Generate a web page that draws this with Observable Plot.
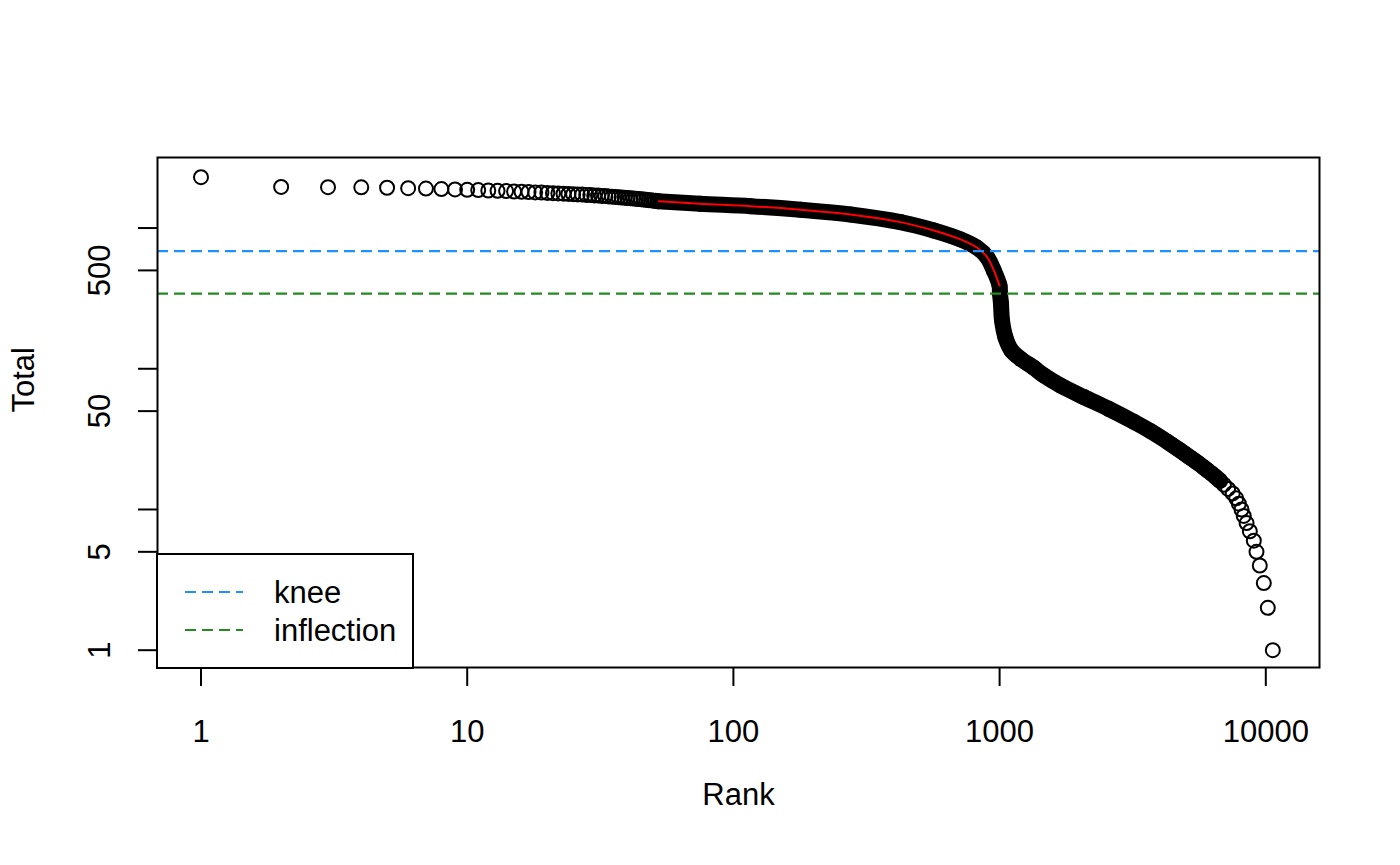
<!DOCTYPE html>
<html>
<head>
<meta charset="utf-8">
<script src="https://cdn.jsdelivr.net/npm/d3@7"></script>
<script src="https://cdn.jsdelivr.net/npm/@observablehq/plot@0.6"></script>
<style>
  html, body { margin: 0; padding: 0; background: #fff; }
  #chart { width: 1400px; height: 865px; }
</style>
</head>
<body>
<div id="chart"></div>
<script>
// Individually visible barcodes (top ranks)
const topRanks = [1,2,3,4,5,6,7,8,9,10,11,12,13,14,15,16,17,18,19,20,21,22,23,24,25,26,27,28,29,30,31,32,33,34,35,36,37,38,39,40,41,42,43,44,45,46,47,48,49,50,51];
const topTotals = [2300,1960,1952,1946,1934,1921,1907,1893,1882,1869,1860,1848,1839,1830,1818,1811,1803,1790,1786,1776,1770,1761,1756,1747,1742,1733,1728,1719,1714,1705,1700,1691,1686,1677,1672,1663,1658,1649,1644,1635,1630,1621,1616,1607,1602,1593,1588,1579,1574,1565,1560];
// Dense band of barcodes
const bandRanks = [52,75,116,179,275,424,566,713,824,898,951,999,1003,1012,1021,1052,1108,1197,1341,1462,1694,2071,2566,3192,3690];
const bandTotals = [1553,1488,1431,1349,1249,1102,961,830,724,621,500,391,345,290,221,167,135,118,102,90,76,63,52,42,36];
// Tail: one point per distinct total
const tailTotals = [30,29,28,27,26,25,24,23,22,21,20,19,18,17,16,15,14,13,12,11,10,9,8,7,6,5,4,3,2,1];
const tailRanks = [4298,4413,4537,4668,4807,4950,5101,5268,5443,5636,5830,6031,6258,6494,6730,6961,7218,7511,7742,7920,8105,8265,8468,8710,9016,9226,9494,9829,10174,10626];
// Fitted curve (red)
const fitRanks = [52.5,75,116,179,275,424,566,713,824,898,951,999];
const fitTotals = [1553,1488,1431,1349,1249,1102,961,830,724,621,500,391];
// Knee / inflection
const kneeValue = 686;
const inflectionValue = 342;
const legendLabels = ["knee", "inflection"];
const legendColors = ["#1E90FF", "#228B22"];
// Axes
const xTicks = [1, 10, 100, 1000, 10000];
const yTicks = [1, 5, 10, 50, 100, 500, 1000];
const yTickLabels = [1, 5, 50, 500];

const topPts = topRanks.map((r, i) => ({rank: r, total: topTotals[i]}));
const bandPts = bandRanks.map((r, i) => ({rank: r, total: bandTotals[i]}));
const tailPts = tailRanks.map((r, i) => ({rank: r, total: tailTotals[i]}));
const fitPts = fitRanks.map((r, i) => ({rank: r, total: fitTotals[i]}));
// the overlapping circles merge into a solid band down to about total 16
const densePts = bandPts.concat(tailPts.filter(d => d.total >= 16));

const FONT = "'Liberation Sans', Arial, Helvetica, sans-serif";
const FS = 31;
const R = 7;
const SW = 2;

const chart = Plot.plot({
  width: 1400,
  height: 865,
  marginLeft: 157,
  marginRight: 81,
  marginTop: 157,
  marginBottom: 198,
  x: {type: "log", domain: [0.6864, 15912]},
  y: {type: "log", domain: [0.7534, 3172]},
  style: {fontFamily: FONT, fontSize: FS + "px", background: "white", color: "black", overflow: "visible"},
  marks: [
    Plot.line(densePts, {x: "rank", y: "total", stroke: "black", strokeWidth: 2 * R + SW, strokeLinejoin: "round", strokeLinecap: "round", curve: "catmull-rom"}),
    Plot.dot(bandPts, {x: "rank", y: "total", r: R, stroke: "black", strokeWidth: SW, fill: "none"}),
    Plot.dot(topPts, {x: "rank", y: "total", r: R, stroke: "black", strokeWidth: SW, fill: "none"}),
    Plot.dot(tailPts, {x: "rank", y: "total", r: R, stroke: "black", strokeWidth: SW, fill: "none"}),
    Plot.line(fitPts, {x: "rank", y: "total", stroke: "red", strokeWidth: 2, curve: "catmull-rom"}),
    Plot.ruleY([kneeValue], {stroke: legendColors[0], strokeWidth: 2.2, strokeDasharray: "11,6"}),
    Plot.ruleY([inflectionValue], {stroke: legendColors[1], strokeWidth: 2.2, strokeDasharray: "11,6"}),
    Plot.axisX({ticks: xTicks, tickSize: 19, tickPadding: 33, strokeWidth: 2, tickFormat: d => String(d), label: null, fontSize: FS}),
    Plot.axisY({ticks: yTicks, tickSize: 19, strokeWidth: 2, tickFormat: () => "", label: null}),
    Plot.text(yTickLabels, {y: d => d, text: d => String(d), frameAnchor: "left", dx: -57, rotate: -90, textAnchor: "middle", lineAnchor: "middle", fontSize: FS, fill: "black"}),
    Plot.text(["Rank"], {text: d => d, frameAnchor: "bottom", dy: 137, fontSize: FS, fill: "black"}),
    Plot.text(["Total"], {text: d => d, frameAnchor: "left", dx: -133, rotate: -90, fontSize: FS, fill: "black"}),
    Plot.frame({stroke: "black", strokeWidth: 2})
  ]
});

// Legend box inside the plot (bottom-left corner)
const svg = d3.select(chart);
const lg = svg.append("g").attr("font-family", FONT).attr("font-size", FS).attr("text-anchor", "start");
lg.append("rect").attr("x", 157).attr("y", 554).attr("width", 256).attr("height", 114)
  .attr("fill", "white").attr("stroke", "black").attr("stroke-width", 2);
legendLabels.forEach((lab, i) => {
  const yy = 592 + i * 38;
  lg.append("line").attr("x1", 185).attr("x2", 243).attr("y1", yy).attr("y2", yy)
    .attr("stroke", legendColors[i]).attr("stroke-width", 2.2).attr("stroke-dasharray", "11,6");
  lg.append("text").attr("x", 274).attr("y", yy + 11).attr("fill", "black").attr("text-anchor", "start").text(lab);
});

document.getElementById("chart").appendChild(chart);
</script>
</body>
</html>
